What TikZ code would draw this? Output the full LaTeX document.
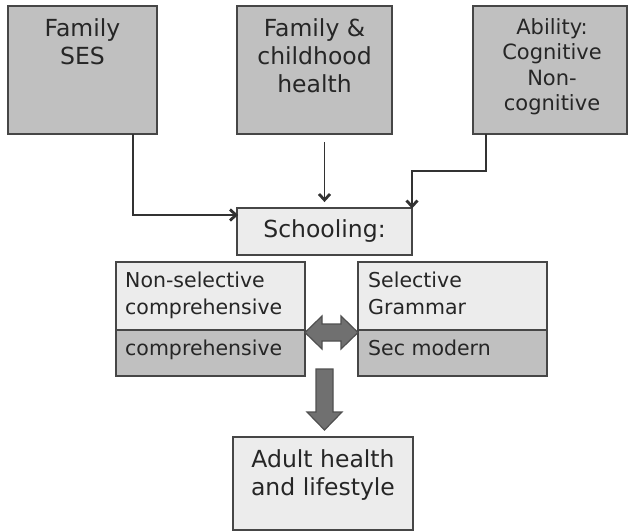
\documentclass[tikz,border=0pt]{standalone}
\usepackage{fontspec}
\setmainfont{DejaVu Sans}
\usetikzlibrary{arrows.meta,calc}
\definecolor{darkg}{RGB}{192,192,192}
\definecolor{lightg}{RGB}{236,236,236}
\definecolor{bordc}{RGB}{70,70,70}
\definecolor{linec}{RGB}{50,50,50}
\definecolor{arrowf}{RGB}{112,112,112}
\definecolor{arrowd}{RGB}{80,80,80}
\tikzset{
  box/.style={draw=bordc, line width=1.4pt, inner sep=0pt, outer sep=0pt, anchor=north west},
  darkbox/.style={box, fill=darkg},
  lightbox/.style={box, fill=lightg},
  bigtxt/.style={font=\fontsize{23.5}{28}\selectfont, align=center, inner sep=0pt, text=black!85},
  midtxt/.style={font=\fontsize{21}{25.5}\selectfont, align=center, inner sep=0pt, text=black!85},
  smalltxt/.style={font=\fontsize{20.5}{27}\selectfont, align=left, inner sep=0pt, anchor=north west, text=black!85},
  conn/.style={draw=linec, line width=1.8pt},
  chevron/.style={draw=linec, line width=2.8pt, line join=miter, line cap=butt},
  bigarrow/.style={fill=arrowf, draw=arrowd, line width=1.2pt, line join=miter}
}
\begin{document}
\begin{tikzpicture}[x=1pt,y=-1pt]
\useasboundingbox (0,0) rectangle (628,531);

% top boxes
\node[darkbox, minimum width=149pt, minimum height=128pt] (ses) at (8,6) {};
\node[darkbox, minimum width=155pt, minimum height=128pt] (fam) at (237,6) {};
\node[darkbox, minimum width=154pt, minimum height=128pt] (abil) at (473,6) {};
\node[bigtxt, anchor=north] (sestxt) at ($(ses.north)+(0,12)$) {Family\\SES};
\node[bigtxt, anchor=north] (famtxt) at ($(fam.north)+(0,12)$) {Family \&\\childhood\\health};
\node[midtxt, anchor=north] (abiltxt) at ($(abil.north)+(2,12)$) {Ability:\\Cognitive\\Non-\\cognitive};

% schooling
\node[lightbox, minimum width=175pt, minimum height=47pt] (school) at (237,208) {};
\node[bigtxt] (schooltxt) at ($(school.center)+(0,-0.5)$) {Schooling:};

% lower boxes
\node[lightbox, minimum width=189pt, minimum height=68pt] (nsel) at (116,262) {};
\node[darkbox, minimum width=189pt, minimum height=46pt] (comp) at (116,330) {};
\node[lightbox, minimum width=189pt, minimum height=68pt] (sel) at (358,262) {};
\node[darkbox, minimum width=189pt, minimum height=46pt] (secm) at (358,330) {};
\node[smalltxt] (nseltxt) at ($(nsel.north west)+(9,10)$) {Non-selective\\comprehensive};
\node[smalltxt] (comptxt) at ($(comp.north west)+(9,10)$) {comprehensive};
\node[smalltxt] (seltxt) at ($(sel.north west)+(10,10)$) {Selective\\Grammar};
\node[smalltxt] (secmtxt) at ($(secm.north west)+(10,10)$) {Sec modern};

% adult
\node[lightbox, minimum width=180pt, minimum height=93pt] (adult) at (233,437) {};
\node[bigtxt, anchor=north] (adulttxt) at ($(adult.north)+(0,12)$) {Adult health\\and lifestyle};

% connectors
\coordinate (s1) at ($(ses.south east)+(-24,0)$);
\coordinate (e1) at ($(school.north west)+(-1,7)$);
\draw[conn] (s1) |- (e1);
\draw[chevron] ($(e1)+(-6,-5.5)$) -- (e1) -- ($(e1)+(-6,5.5)$);

\coordinate (m1) at ($(school.north |- fam.south)+(0,8)$);
\coordinate (e2) at ($(school.north)+(0,-8)$);
\draw[conn] (m1) -- (e2);
\draw[chevron] ($(e2)+(-5.5,-6)$) -- (e2) -- ($(e2)+(5.5,-6)$);

\coordinate (r1) at ($(abil.south west)+(13,0)$);
\coordinate (e3) at ($(school.north east)+(0,-1.5)$);
\draw[conn] (r1) -- ++(0,37) -| (e3);
\draw[chevron] ($(e3)+(-5.5,-6)$) -- (e3) -- ($(e3)+(5.5,-6)$);

% double arrow between the school types
\coordinate (dbl) at ($(comp.north east)!0.5!(secm.north west)+(0,2.5)$);
\path[bigarrow, shift={(dbl)}]
  (-26.5,0) -- (-9.5,-16.5) -- (-9.5,-8.5) -- (9.5,-8.5) -- (9.5,-16.5) -- (26.5,0)
  -- (9.5,16.5) -- (9.5,8.5) -- (-9.5,8.5) -- (-9.5,16.5) -- cycle;

% down arrow to adult
\coordinate (dn) at ($(adult.north)+(1.5,-7)$);
\path[bigarrow, shift={(dn)}]
  (0,0) -- (-17.5,-18) -- (-8.5,-18) -- (-8.5,-61) -- (8.5,-61) -- (8.5,-18) -- (17.5,-18) -- cycle;
\end{tikzpicture}
\end{document}
